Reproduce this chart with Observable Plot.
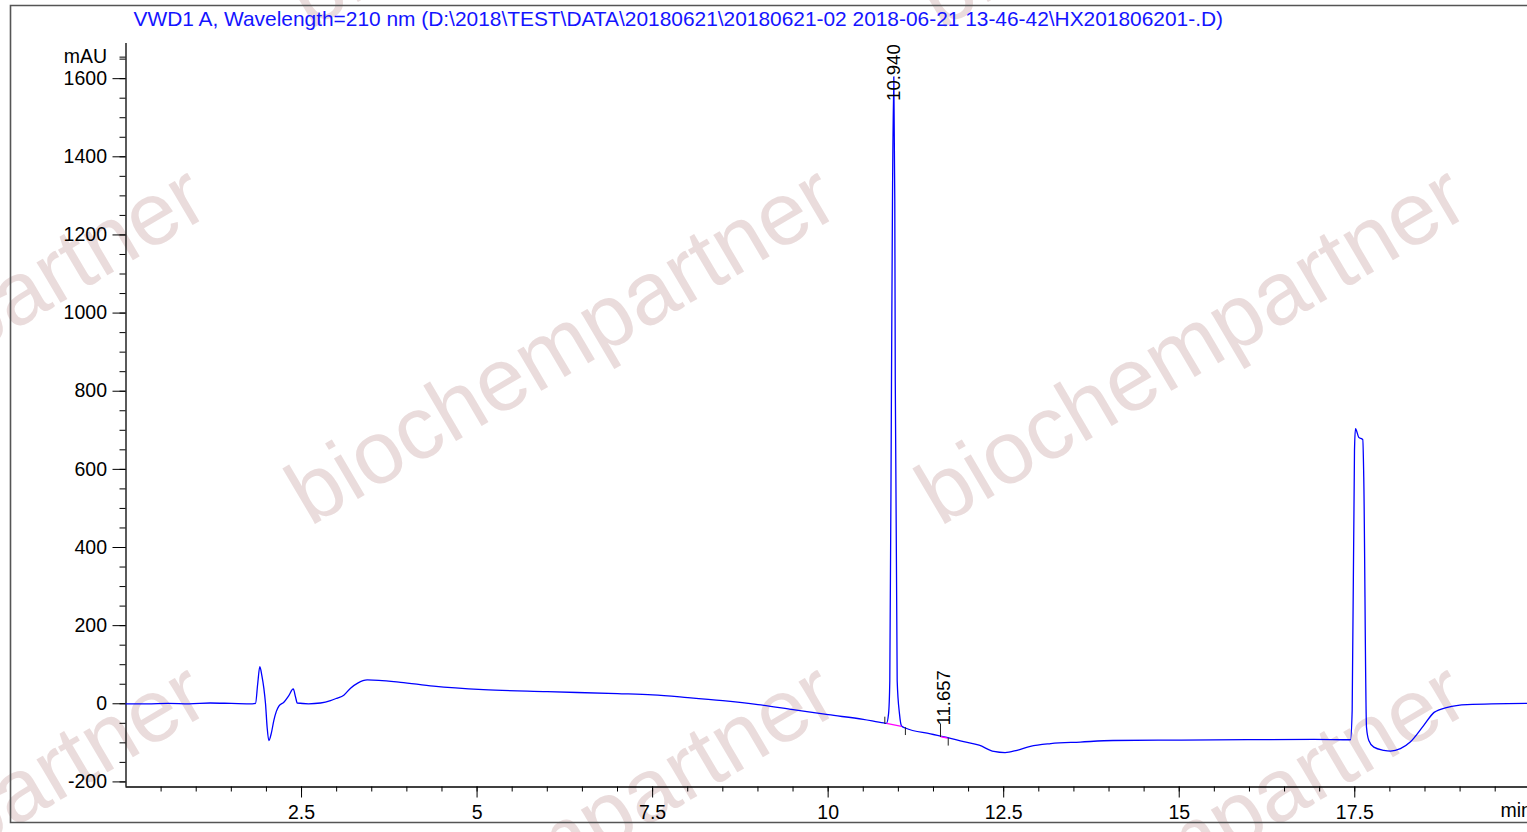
<!DOCTYPE html>
<html><head><meta charset="utf-8">
<script src="https://cdn.jsdelivr.net/npm/d3@7"></script>
<script src="https://cdn.jsdelivr.net/npm/@observablehq/plot@0.6"></script>
<style>
body{margin:0;background:#fff;overflow:hidden}
#chart{position:relative;width:1527px;height:832px}
</style>
</head><body><div id="chart"></div>
<script>
// ---- data ----
const titleText = "VWD1 A, Wavelength=210 nm (D:\\2018\\TEST\\DATA\\20180621\\20180621-02 2018-06-21 13-46-42\\HX201806201-.D)";
const time = [0,0.3,0.6,0.9,1.2,1.5,1.8,1.845,1.875,1.906,1.935,1.963,1.987,2.010,2.034,2.070,2.105,2.140,2.177,2.248,2.319,2.382,2.415,2.439,2.6,2.771,2.913,3.0,3.102,3.198,3.3,3.436,3.6,3.91,4.38,5.09,6.0,7.0,7.5,8.0,8.5,9.0,9.5,10.0,10.5,10.79,10.831,10.860,10.878,10.902,10.916,10.935,10.949,10.956,10.983,11.016,11.045,11.10,11.457,11.69,11.93,12.15,12.36,12.52,12.69,12.88,13.17,13.59,14.06,15.02,15.97,16.92,17.439,17.463,17.496,17.510,17.557,17.614,17.628,17.667,17.700,17.771,17.913,18.008,18.15,18.29,18.48,18.63,18.82,19.10,19.955];
const signal = [0,0,1,0,2,1,0,1,50,95,72,40,0,-60,-94,-75,-43,-20,-6,4,21,38,17,2,0,2,8,14,22,40,53,61,60,55,45,36,31,26,23,16,8,-2,-15,-28,-40,-49,-50,-26,59,825,1285,1605,1285,825,59,-26,-57,-62,-77,-86,-97,-106,-122,-125,-119,-109,-102,-98,-94,-93,-92,-91,-92,-17,648,704,682,676,580,-60,-94,-111,-119,-121,-115,-98,-56,-22,-9,-2,1];

const peakRT = [10.940, 11.657];
const peakLabel = ["10.940", "11.657"];
const peakApex = [1602, -86];
const baseStartT = [10.831, 11.600];
const baseStartV = [-50, -84];
const baseEndT = [11.045, 11.700];
const baseEndV = [-58, -88];
const tickStartT = [10.807, 11.600];
const tickStartV = [-51, -85];
const tickEndT = [11.100, 11.710];
const tickEndV = [-60, -87];

const xMajor = [2.5, 5, 7.5, 10, 12.5, 15, 17.5];
const xMinor = d3.range(0.5, 20, 0.5);
const yMajor = [-200, 0, 200, 400, 600, 800, 1000, 1200, 1400, 1600];
const yMinor = d3.range(-200, 1651, 50);
const yUnit = "mAU";
const xUnit = "min";
const watermark = "biochempartner";

// ---- build ----
const curve = time.map((t, i) => ({t, v: signal[i]}));
const idx = peakRT.map((_, i) => i);
const xDom = [0, 19.96], yDom = [-213, 1690];

const chart = Plot.plot({
  width: 1527, height: 832,
  marginLeft: 125.5, marginRight: 0, marginTop: 43, marginBottom: 45.5,
  style: {fontFamily: "'Liberation Sans', Arial, sans-serif", fontSize: "19.5px", color: "black", background: "transparent"},
  x: {domain: xDom},
  y: {domain: yDom},
  marks: [
    Plot.axisY({ticks: yMinor, tickSize: 6, tickFormat: () => "", label: null}),
    Plot.axisY({ticks: yMajor, tickSize: 13, tickPadding: 6, tickFormat: d => String(d), label: null}),
    Plot.axisY({ticks: [1650], tickSize: 6, tickPadding: 13, tickFormat: () => yUnit, label: null, dy: -2}),
    Plot.axisX({ticks: xMinor, tickSize: 5, tickFormat: () => "", label: null}),
    Plot.axisX({ticks: xMajor, tickSize: 11, tickPadding: 7.5, tickFormat: d => String(d), label: null}),
    Plot.ruleX([xDom[0]], {stroke: "black", strokeWidth: 1.3}),
    Plot.ruleY([yDom[0]], {stroke: "black", strokeWidth: 1.3}),
    Plot.text([xUnit], {text: d => d, frameAnchor: "bottom-right", dx: -27, dy: 24, textAnchor: "start", lineAnchor: "middle"}),
    Plot.line(curve, {x: "t", y: "v", stroke: "#0000ff", strokeWidth: 1.3, curve: "monotone-x"}),
    Plot.link(idx, {x1: i => baseStartT[i], y1: i => baseStartV[i], x2: i => baseEndT[i], y2: i => baseEndV[i], stroke: "#ff00ff", strokeWidth: 1.2}),
    Plot.link(idx, {x1: i => tickStartT[i], y1: i => tickStartV[i], x2: i => tickStartT[i], y2: i => tickStartV[i] + (i === 0 ? 18 : 34), stroke: "#222", strokeWidth: 1}),
    Plot.link(idx, {x1: i => tickEndT[i], y1: i => tickEndV[i], x2: i => tickEndT[i], y2: i => tickEndV[i] - 20, stroke: "#222", strokeWidth: 1}),
    Plot.text([0], {x: peakRT[0], y: peakApex[0], text: () => peakLabel[0], rotate: -90, textAnchor: "start", lineAnchor: "middle", dy: 23, fontSize: 18.5, fill: "black"}),
    Plot.text([1], {x: peakRT[1], y: peakApex[1], text: () => peakLabel[1], rotate: -90, textAnchor: "start", lineAnchor: "middle", dy: -12, fontSize: 18.5, fill: "black"}),
    Plot.text([titleText], {text: d => d, frameAnchor: "top-left", dx: 7.5, dy: -24, textAnchor: "start", lineAnchor: "middle", fill: "#1414ff", fontSize: 20.9})
  ]
});
document.getElementById("chart").appendChild(chart);

// watermark + outer frame (decoration)
const svg = d3.select(chart);
const wm = svg.insert("g", ":first-child").attr("fill", "#eadcdc").attr("text-anchor", "start")
  .attr("font-family", "'Liberation Sans', Arial, sans-serif").attr("font-size", 89);
const cols = [-320, 310, 940], rows = [30, 527, 1024];
for (const x0 of cols) for (const y0 of rows) {
  wm.append("text").attr("text-anchor", "start").attr("transform", `translate(${x0},${y0}) rotate(-30.5)`).text(watermark);
}
svg.insert("rect", ":first-child").attr("width", 1527).attr("height", 832).attr("fill", "white");
svg.append("path").attr("d", "M1540,5.5 H10.5 V822.5 H1540").attr("fill", "none").attr("stroke", "#555").attr("stroke-width", 1.6);
</script>
</body></html>
